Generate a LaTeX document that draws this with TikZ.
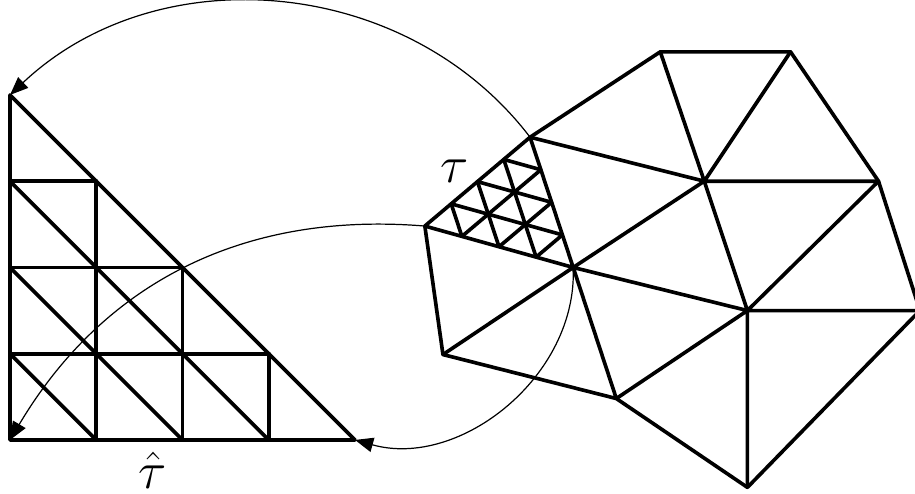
\documentclass[tikz,border=0pt]{standalone}
\usepackage{tikz}
\usetikzlibrary{arrows.meta,calc}
\tikzset{
  mesh/.style={line width=1.2pt,line cap=round,line join=round},
  maparrow/.style={line width=0.4pt,-{Triangle[length=6pt,width=4.8pt]}}
}
\newcommand{\refine}[3]{%
  \draw[mesh] (#1) -- (#2) -- (#3) -- cycle;
  \foreach \k in {1,2,3} {
    \draw[mesh] ($(#1)!\k/4!(#2)$) -- ($(#1)!\k/4!(#3)$);
    \draw[mesh] ($(#2)!\k/4!(#1)$) -- ($(#2)!\k/4!(#3)$);
    \draw[mesh] ($(#3)!\k/4!(#1)$) -- ($(#3)!\k/4!(#2)$);
  }}

\begin{document}
\begin{tikzpicture}
  \useasboundingbox (-0.116,-0.626) rectangle (10.493,5.101);
  \coordinate (O) at (0,0);
  \coordinate (R) at (4,0);
  \coordinate (T) at (0,4);
  \refine{O}{R}{T}
  \node (that) at (1.65,-0.35) {\LARGE$\hat{\tau}$};

  \coordinate (A) at (6.03,3.51);
  \coordinate (B) at (4.81,2.48);
  \coordinate (C) at (6.53,2.00);
  \coordinate (D) at (7.54,4.50);
  \coordinate (E) at (9.05,4.50);
  \coordinate (F) at (8.05,3.00);
  \coordinate (G) at (10.07,3.00);
  \coordinate (H) at (8.55,1.50);
  \coordinate (J) at (5.02,0.99);
  \coordinate (K) at (7.03,0.48);
  \coordinate (L) at (8.55,-0.55);
  \coordinate (M) at (10.55,1.50);
  \draw[mesh] (A) -- (D) -- (E) -- (G) -- (M) -- (L) -- (K) -- (J) -- (B);
  \draw[mesh] (D) -- (F) -- (E) (A) -- (F) -- (G) (F) -- (C) -- (J)
    (F) -- (H) -- (G) (C) -- (H) -- (M) (H) -- (L) (K) -- (H) (C) -- (K);
  \refine{A}{B}{C}
  \node (tau) at (5.16,3.11) {\LARGE$\tau$};

  \draw[maparrow] (A) to[bend right=48] (T);
  \draw[maparrow] (C) to[bend left=54] (R);
  \draw[maparrow] (B) to[bend right=32] (O);
\end{tikzpicture}
\end{document}
